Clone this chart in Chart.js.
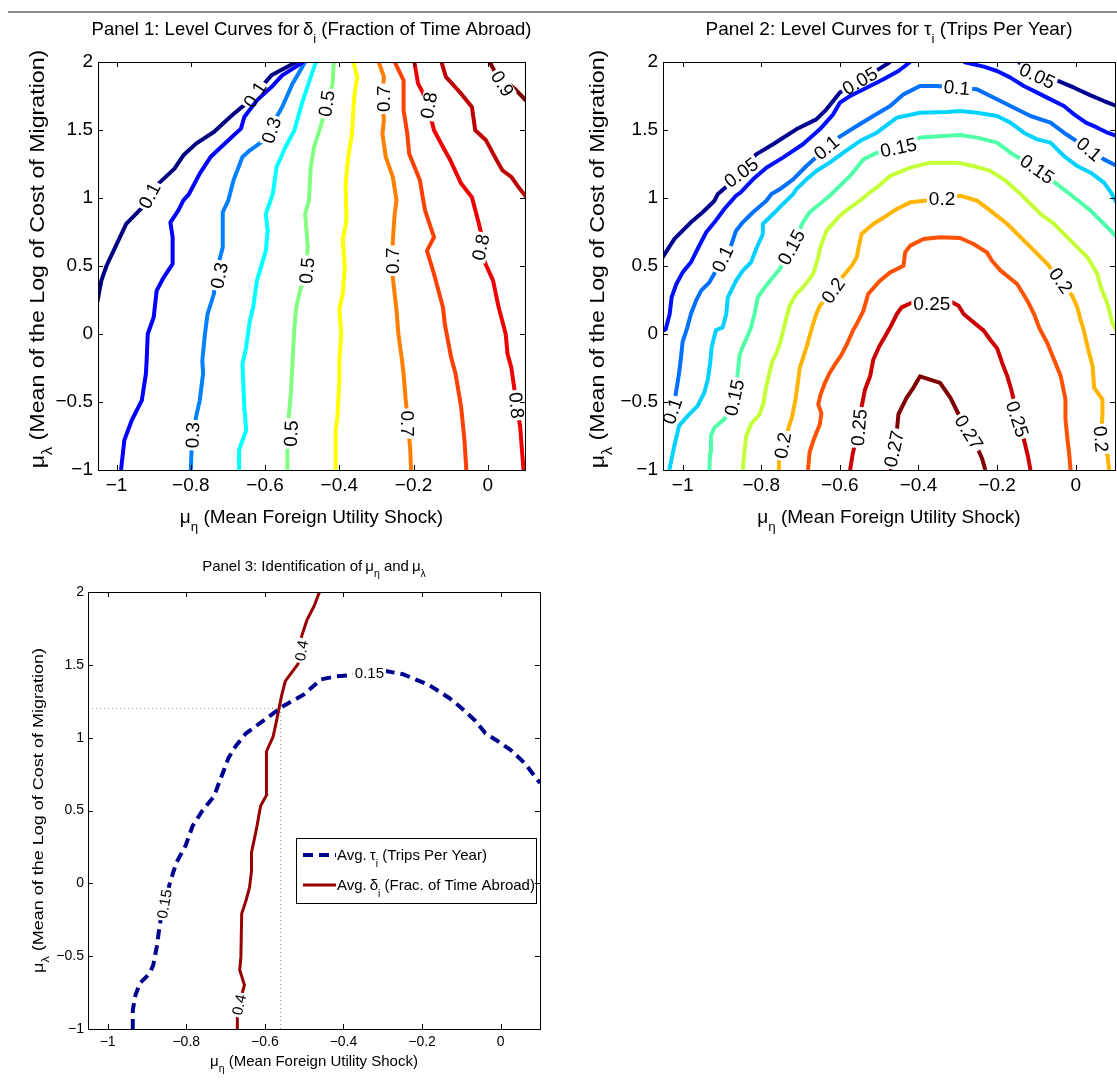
<!DOCTYPE html>
<html lang="en">
<head>
<meta charset="UTF-8">
<title>Level curves and identification</title>
<script src="https://cdn.jsdelivr.net/npm/chart.js"></script>
<style>
    body { margin: 0; background: #ffffff; }
    #page { position: relative; width: 1117px; height: 1088px; overflow: hidden; }
    .rule { position: absolute; left: 8px; top: 11px; width: 1109px; height: 2px; background: #8c8c8c; }
    canvas { position: absolute; }
</style>
</head>
<body>
<div id="page">
    <div class="rule"></div>
    <canvas id="panel1" width="560" height="540" style="left:0;top:0"></canvas>
    <canvas id="panel2" width="560" height="540" style="left:557px;top:0"></canvas>
    <canvas id="panel3" width="560" height="548" style="left:0;top:540px"></canvas>
</div>
<script>
// axes
const xRange = [-1.05, 0.1];
const yRange = [-1, 2];
const xTicks = [-1, -0.8, -0.6, -0.4, -0.2, 0];
const yTicks = [-1, -0.5, 0, 0.5, 1, 1.5, 2];

// Panel 1: level curves of delta (fraction of time abroad)
const d_010 = [[-0.516,2.0],[-0.583,1.902],[-0.641,1.718],[-0.689,1.608],[-0.738,1.485],[-0.786,1.400],[-0.820,1.314],[-0.844,1.216],[-0.892,1.093],[-0.926,0.944],[-0.974,0.809],[-1.008,0.613],[-1.027,0.502],[-1.041,0.392],[-1.052,0.233]];
const d_020 = [[-0.497,2.0],[-0.554,1.902],[-0.583,1.816],[-0.622,1.718],[-0.656,1.596],[-0.665,1.510],[-0.699,1.424],[-0.747,1.301],[-0.776,1.179],[-0.805,1.029],[-0.820,0.983],[-0.834,0.907],[-0.855,0.821],[-0.849,0.711],[-0.849,0.515],[-0.873,0.417],[-0.892,0.319],[-0.900,0.123],[-0.916,0.0],[-0.919,-0.196],[-0.921,-0.293],[-0.932,-0.488],[-0.959,-0.634],[-0.979,-0.780],[-0.988,-1.0]];
const d_030 = [[-0.492,2.0],[-0.526,1.841],[-0.554,1.669],[-0.574,1.571],[-0.583,1.498],[-0.603,1.424],[-0.641,1.351],[-0.661,1.302],[-0.685,1.130],[-0.699,0.983],[-0.714,0.895],[-0.714,0.637],[-0.728,0.490],[-0.738,0.294],[-0.755,0.147],[-0.762,0.0],[-0.769,-0.196],[-0.767,-0.293],[-0.776,-0.488],[-0.786,-0.610],[-0.798,-0.854],[-0.800,-1.0]];
const d_040 = [[-0.463,2.0],[-0.477,1.890],[-0.501,1.694],[-0.521,1.498],[-0.545,1.375],[-0.569,1.228],[-0.579,1.033],[-0.598,0.882],[-0.593,0.760],[-0.598,0.613],[-0.622,0.392],[-0.632,0.196],[-0.641,0.098],[-0.651,-0.098],[-0.661,-0.220],[-0.656,-0.537],[-0.651,-0.707],[-0.670,-0.854],[-0.670,-1.0]];
const d_050 = [[-0.415,2.0],[-0.418,1.841],[-0.431,1.718],[-0.448,1.547],[-0.468,1.375],[-0.477,1.228],[-0.482,0.983],[-0.492,0.882],[-0.485,0.637],[-0.492,0.441],[-0.506,0.319],[-0.516,0.196],[-0.521,0.049],[-0.526,-0.196],[-0.530,-0.415],[-0.537,-0.634],[-0.540,-0.780],[-0.540,-1.0]];
const d_060 = [[-0.362,2.0],[-0.352,1.890],[-0.360,1.743],[-0.366,1.473],[-0.376,1.302],[-0.383,1.106],[-0.381,0.833],[-0.391,0.686],[-0.385,0.490],[-0.391,0.294],[-0.400,0.184],[-0.395,0.0],[-0.400,-0.196],[-0.400,-0.341],[-0.405,-0.610],[-0.410,-0.707],[-0.410,-1.0]];
const d_070 = [[-0.294,2.0],[-0.280,1.890],[-0.284,1.743],[-0.280,1.571],[-0.284,1.473],[-0.275,1.302],[-0.256,1.155],[-0.246,0.983],[-0.251,0.882],[-0.256,0.686],[-0.256,0.417],[-0.246,0.172],[-0.241,0.0],[-0.231,-0.196],[-0.227,-0.293],[-0.222,-0.463],[-0.215,-0.659],[-0.209,-0.854],[-0.207,-1.0]];
const d_075 = [[-0.251,2.0],[-0.227,1.865],[-0.227,1.645],[-0.217,1.473],[-0.212,1.326],[-0.183,1.130],[-0.174,0.983],[-0.169,0.907],[-0.145,0.711],[-0.164,0.613],[-0.145,0.441],[-0.121,0.196],[-0.116,0.074],[-0.099,-0.172],[-0.087,-0.293],[-0.072,-0.537],[-0.063,-0.780],[-0.058,-1.0]];
const d_080 = [[-0.198,2.0],[-0.188,1.841],[-0.164,1.718],[-0.154,1.596],[-0.145,1.498],[-0.121,1.375],[-0.101,1.277],[-0.072,1.106],[-0.043,1.005],[-0.024,0.809],[-0.014,0.686],[-0.010,0.539],[0.014,0.392],[0.029,0.196],[0.048,0.0],[0.053,-0.147],[0.063,-0.244],[0.077,-0.512],[0.087,-0.683],[0.096,-1.0]];
const d_085 = [[-0.125,2.0],[-0.113,1.890],[-0.072,1.767],[-0.043,1.669],[-0.034,1.498],[-0.005,1.424],[0.024,1.277],[0.039,1.204],[0.063,1.155],[0.082,1.082],[0.105,1.0]];
const d_090 = [[0.005,2.0],[0.019,1.927],[0.072,1.804],[0.105,1.71]];
const deltaLines = [d_010, d_020, d_030, d_040, d_050, d_060, d_070, d_075, d_080, d_085, d_090];
const deltaColors = ['#000080','#0000FF','#0080FF','#00FFFF','#80FF80','#FFFF00','#FF8000','#FF4000','#F00000','#BF0000','#800000'];
const deltaLabels = [
    { line: 0, text: '0.1', x: -0.627, y: 1.760, angle: -58 },
    { line: 0, text: '0.1', x: -0.911, y: 1.017, angle: -62 },
    { line: 2, text: '0.3', x: -0.583, y: 1.498, angle: -72 },
    { line: 2, text: '0.3', x: -0.723, y: 0.429, angle: -78 },
    { line: 2, text: '0.3', x: -0.795, y: -0.744, angle: -88 },
    { line: 4, text: '0.5', x: -0.434, y: 1.694, angle: -82 },
    { line: 4, text: '0.5', x: -0.487, y: 0.466, angle: -85 },
    { line: 4, text: '0.5', x: -0.530, y: -0.732, angle: -88 },
    { line: 6, text: '0.7', x: -0.280, y: 1.730, angle: -90 },
    { line: 6, text: '0.7', x: -0.256, y: 0.539, angle: -90 },
    { line: 6, text: '0.7', x: -0.217, y: -0.659, angle: 90 },
    { line: 8, text: '0.8', x: -0.159, y: 1.681, angle: -80 },
    { line: 8, text: '0.8', x: -0.019, y: 0.637, angle: -78 },
    { line: 8, text: '0.8', x: 0.077, y: -0.524, angle: 85 },
    { line: 10, text: '0.9', x: 0.039, y: 1.841, angle: 58 }
];

// Panel 2: level curves of tau (trips per year)
const t_005a = [[-1.052,0.56],[-1.021,0.699],[-1.0,0.760],[-0.979,0.821],[-0.949,0.895],[-0.919,0.980],[-0.911,1.027],[-0.872,1.125],[-0.851,1.186],[-0.813,1.321],[-0.770,1.395],[-0.711,1.505],[-0.660,1.578],[-0.634,1.652],[-0.600,1.775],[-0.549,1.860],[-0.502,1.946],[-0.472,2.0]];
const t_005b = [[-0.145,2.0],[-0.098,1.897],[-0.051,1.868],[-0.004,1.811],[0.038,1.755],[0.072,1.713],[0.105,1.676]];
const t_0075a = [[-1.052,0.02],[-1.043,0.037],[-1.033,0.147],[-1.028,0.270],[-1.016,0.368],[-1.0,0.453],[-0.979,0.527],[-0.962,0.625],[-0.940,0.748],[-0.919,0.821],[-0.894,0.919],[-0.864,1.017],[-0.853,1.039],[-0.821,1.137],[-0.787,1.223],[-0.745,1.297],[-0.694,1.395],[-0.651,1.505],[-0.617,1.615],[-0.600,1.701],[-0.574,1.750],[-0.532,1.811],[-0.489,1.873],[-0.451,1.934],[-0.421,2.0]];
const t_0075b = [[-0.285,2.0],[-0.234,1.966],[-0.200,1.934],[-0.166,1.885],[-0.132,1.824],[-0.098,1.775],[-0.064,1.725],[-0.030,1.676],[-0.004,1.615],[0.026,1.554],[0.055,1.517],[0.081,1.480],[0.105,1.456]];
const t_010 = [[-1.052,-0.63],[-1.038,-0.614],[-1.026,-0.566],[-1.017,-0.432],[-1.009,-0.286],[-1.004,-0.165],[-1.0,-0.056],[-0.990,0.030],[-0.979,0.147],[-0.966,0.245],[-0.953,0.319],[-0.932,0.380],[-0.898,0.551],[-0.877,0.650],[-0.864,0.760],[-0.847,0.821],[-0.821,0.895],[-0.787,0.980],[-0.774,1.029],[-0.753,1.064],[-0.719,1.137],[-0.685,1.235],[-0.634,1.370],[-0.604,1.444],[-0.557,1.529],[-0.515,1.603],[-0.472,1.676],[-0.438,1.762],[-0.396,1.824],[-0.353,1.824],[-0.302,1.811],[-0.251,1.799],[-0.217,1.750],[-0.166,1.676],[-0.115,1.603],[-0.064,1.554],[-0.030,1.480],[0.034,1.358],[0.072,1.284],[0.105,1.235]];
const t_0125 = [[-1.034,-1.0],[-1.021,-0.820],[-1.009,-0.675],[-0.987,-0.602],[-0.962,-0.529],[-0.945,-0.432],[-0.936,-0.335],[-0.930,-0.214],[-0.926,-0.092],[-0.915,0.029],[-0.898,0.049],[-0.889,0.147],[-0.885,0.270],[-0.864,0.392],[-0.847,0.466],[-0.826,0.527],[-0.813,0.625],[-0.796,0.735],[-0.796,0.809],[-0.770,0.882],[-0.749,0.944],[-0.719,1.029],[-0.711,1.064],[-0.685,1.137],[-0.660,1.199],[-0.626,1.260],[-0.591,1.333],[-0.549,1.419],[-0.506,1.480],[-0.455,1.591],[-0.396,1.627],[-0.328,1.632],[-0.294,1.640],[-0.251,1.627],[-0.200,1.603],[-0.166,1.554],[-0.132,1.480],[-0.098,1.431],[-0.064,1.407],[-0.030,1.309],[0.004,1.235],[0.038,1.186],[0.072,1.113],[0.090,1.040],[0.105,0.960]];
const t_015 = [[-0.932,-1.0],[-0.930,-0.869],[-0.928,-0.748],[-0.919,-0.687],[-0.894,-0.626],[-0.868,-0.468],[-0.860,-0.286],[-0.855,-0.153],[-0.845,-0.080],[-0.832,0.005],[-0.826,0.049],[-0.817,0.147],[-0.809,0.270],[-0.791,0.343],[-0.774,0.404],[-0.753,0.478],[-0.723,0.637],[-0.694,0.821],[-0.677,0.895],[-0.651,0.956],[-0.626,1.017],[-0.609,1.064],[-0.574,1.162],[-0.540,1.284],[-0.506,1.333],[-0.451,1.370],[-0.396,1.444],[-0.336,1.456],[-0.294,1.463],[-0.251,1.444],[-0.200,1.407],[-0.166,1.333],[-0.098,1.211],[-0.047,1.100],[-0.017,1.034],[0.017,0.956],[0.038,0.907],[0.055,0.858],[0.072,0.809],[0.089,0.760],[0.105,0.711]];
const t_0175 = [[-0.847,-1.0],[-0.843,-0.869],[-0.838,-0.748],[-0.826,-0.663],[-0.804,-0.590],[-0.794,-0.505],[-0.789,-0.408],[-0.779,-0.286],[-0.772,-0.201],[-0.760,-0.129],[-0.751,-0.056],[-0.743,0.040],[-0.728,0.208],[-0.711,0.294],[-0.694,0.343],[-0.668,0.441],[-0.655,0.564],[-0.651,0.625],[-0.634,0.760],[-0.604,0.858],[-0.579,0.919],[-0.549,0.980],[-0.523,1.042],[-0.502,1.088],[-0.472,1.162],[-0.421,1.223],[-0.370,1.260],[-0.302,1.260],[-0.260,1.235],[-0.217,1.199],[-0.183,1.137],[-0.149,1.051],[-0.140,1.029],[-0.115,0.956],[-0.089,0.882],[-0.055,0.809],[-0.021,0.711],[0.004,0.637],[0.030,0.564],[0.055,0.441],[0.064,0.343],[0.081,0.221],[0.094,0.074],[0.105,0.02]];
const t_020 = [[-0.755,-1.0],[-0.755,-0.942],[-0.745,-0.820],[-0.730,-0.687],[-0.721,-0.602],[-0.713,-0.481],[-0.707,-0.359],[-0.702,-0.250],[-0.694,-0.177],[-0.683,-0.080],[-0.675,0.005],[-0.668,0.074],[-0.660,0.147],[-0.651,0.208],[-0.617,0.319],[-0.591,0.429],[-0.570,0.502],[-0.557,0.564],[-0.553,0.625],[-0.545,0.735],[-0.515,0.809],[-0.481,0.870],[-0.455,0.919],[-0.421,0.968],[-0.340,0.993],[-0.294,1.017],[-0.251,0.980],[-0.217,0.907],[-0.174,0.809],[-0.140,0.711],[-0.106,0.613],[-0.072,0.515],[-0.038,0.392],[-0.009,0.282],[0.004,0.196],[0.013,0.098],[0.021,0.025],[0.030,-0.092],[0.043,-0.238],[0.047,-0.396],[0.068,-0.481],[0.068,-0.602],[0.064,-0.772],[0.081,-0.893],[0.085,-1.0]];
const t_0225 = [[-0.681,-1.0],[-0.677,-0.869],[-0.666,-0.772],[-0.651,-0.663],[-0.647,-0.583],[-0.655,-0.517],[-0.649,-0.444],[-0.638,-0.359],[-0.626,-0.286],[-0.613,-0.226],[-0.596,-0.153],[-0.581,-0.068],[-0.566,0.029],[-0.557,0.074],[-0.540,0.172],[-0.528,0.294],[-0.498,0.392],[-0.472,0.453],[-0.438,0.502],[-0.434,0.600],[-0.421,0.650],[-0.387,0.699],[-0.345,0.711],[-0.294,0.706],[-0.260,0.662],[-0.226,0.600],[-0.213,0.539],[-0.191,0.466],[-0.149,0.368],[-0.123,0.245],[-0.106,0.147],[-0.092,0.040],[-0.072,-0.068],[-0.055,-0.189],[-0.038,-0.311],[-0.026,-0.481],[-0.026,-0.626],[-0.021,-0.772],[-0.017,-0.869],[-0.013,-1.0]];
const t_025 = [[-0.574,-1.0],[-0.568,-0.893],[-0.561,-0.796],[-0.551,-0.687],[-0.545,-0.541],[-0.536,-0.408],[-0.523,-0.311],[-0.515,-0.189],[-0.500,-0.092],[-0.483,-0.007],[-0.472,0.049],[-0.455,0.147],[-0.443,0.196],[-0.413,0.235],[-0.366,0.245],[-0.319,0.240],[-0.298,0.208],[-0.285,0.147],[-0.260,0.086],[-0.234,0.025],[-0.217,-0.044],[-0.200,-0.104],[-0.187,-0.214],[-0.174,-0.311],[-0.164,-0.408],[-0.157,-0.493],[-0.149,-0.626],[-0.132,-0.772],[-0.122,-0.893],[-0.115,-1.0]];
const t_027 = [[-0.472,-1.0],[-0.470,-0.966],[-0.462,-0.845],[-0.455,-0.711],[-0.451,-0.590],[-0.430,-0.468],[-0.413,-0.396],[-0.396,-0.311],[-0.345,-0.359],[-0.319,-0.468],[-0.298,-0.590],[-0.272,-0.723],[-0.251,-0.833],[-0.238,-0.917],[-0.230,-1.0]];
const tauLines = [t_005a, t_005b, t_0075a, t_0075b, t_010, t_0125, t_015, t_0175, t_020, t_0225, t_025, t_027];
const tauColors = ['#000090','#000090','#0010FF','#0010FF','#0070FF','#00D2FF','#50FFA8','#C4FF38','#FFB400','#FF5200','#CC0000','#800000'];
const tauLabels = [
    { line: 0, text: '0.05', x: -0.851, y: 1.186, angle: -36 },
    { line: 0, text: '0.05', x: -0.549, y: 1.860, angle: -30 },
    { line: 1, text: '0.05', x: -0.098, y: 1.897, angle: 25 },
    { line: 4, text: '0.1', x: -1.026, y: -0.566, angle: -72 },
    { line: 4, text: '0.1', x: -0.898, y: 0.551, angle: -65 },
    { line: 4, text: '0.1', x: -0.634, y: 1.370, angle: -40 },
    { line: 4, text: '0.1', x: -0.302, y: 1.811, angle: 5 },
    { line: 4, text: '0.1', x: 0.034, y: 1.358, angle: 40 },
    { line: 6, text: '0.15', x: -0.868, y: -0.468, angle: -78 },
    { line: 6, text: '0.15', x: -0.723, y: 0.637, angle: -62 },
    { line: 6, text: '0.15', x: -0.451, y: 1.370, angle: -12 },
    { line: 6, text: '0.15', x: -0.098, y: 1.211, angle: 35 },
    { line: 8, text: '0.2', x: -0.745, y: -0.820, angle: -80 },
    { line: 8, text: '0.2', x: -0.617, y: 0.319, angle: -55 },
    { line: 8, text: '0.2', x: -0.340, y: 0.993, angle: 0 },
    { line: 8, text: '0.2', x: -0.038, y: 0.392, angle: 55 },
    { line: 8, text: '0.2', x: 0.064, y: -0.772, angle: 85 },
    { line: 10, text: '0.25', x: -0.551, y: -0.687, angle: -85 },
    { line: 10, text: '0.25', x: -0.366, y: 0.225, angle: 0 },
    { line: 10, text: '0.25', x: -0.149, y: -0.626, angle: 72 },
    { line: 11, text: '0.27', x: -0.462, y: -0.845, angle: -78 },
    { line: 11, text: '0.27', x: -0.272, y: -0.723, angle: 58 }
];

// Panel 3: the two matched level curves
const avgTau = [[-0.936,-1.0],[-0.936,-0.868],[-0.929,-0.766],[-0.918,-0.686],[-0.893,-0.618],[-0.884,-0.561],[-0.875,-0.436],[-0.867,-0.277],[-0.856,-0.141],[-0.840,0.018],[-0.825,0.143],[-0.802,0.257],[-0.784,0.393],[-0.757,0.507],[-0.729,0.598],[-0.720,0.666],[-0.707,0.757],[-0.693,0.859],[-0.675,0.939],[-0.648,1.030],[-0.602,1.120],[-0.557,1.211],[-0.502,1.294],[-0.457,1.400],[-0.420,1.420],[-0.334,1.442],[-0.293,1.458],[-0.248,1.435],[-0.184,1.364],[-0.130,1.271],[-0.103,1.211],[-0.066,1.120],[-0.039,1.030],[-0.012,0.984],[0.025,0.916],[0.061,0.825],[0.100,0.689]];
const avgDelta = [[-0.670,-1.0],[-0.670,-0.914],[-0.666,-0.834],[-0.652,-0.698],[-0.664,-0.595],[-0.661,-0.505],[-0.659,-0.209],[-0.648,-0.118],[-0.639,-0.027],[-0.634,0.086],[-0.634,0.211],[-0.620,0.393],[-0.611,0.530],[-0.602,0.575],[-0.595,0.609],[-0.597,0.802],[-0.595,0.905],[-0.579,1.007],[-0.570,1.120],[-0.557,1.294],[-0.548,1.388],[-0.516,1.505],[-0.507,1.598],[-0.507,1.692],[-0.493,1.808],[-0.475,1.902],[-0.461,2.0]];
const crossX = -0.56;
const crossY = 1.2;
const idLabels = [
    { line: 0, text: '0.15', x: -0.856, y: -0.141, angle: -80 },
    { line: 0, text: '0.15', x: -0.334, y: 1.442, angle: 0 },
    { line: 1, text: '0.4', x: -0.666, y: -0.834, angle: -78 },
    { line: 1, text: '0.4', x: -0.507, y: 1.598, angle: -80 }
];

const FONT = '"Liberation Sans", Arial, Helvetica, sans-serif';

function fmtTick(v) {
    const s = String(Math.abs(Math.round(v * 100) / 100));
    return v < 0 ? '\u2212' + s : s;
}

function setFont(ctx, size) { ctx.font = size + 'px ' + FONT; }

function richWidth(ctx, parts, size) {
    let w = 0;
    parts.forEach(p => { setFont(ctx, p.sub ? size * 0.7 : size); w += ctx.measureText(p.t).width; });
    return w;
}

// text with TeX-like subscripts
function drawRich(ctx, parts, x, y, size, align) {
    let cx = align === 'left' ? x : x - richWidth(ctx, parts, size) / 2;
    ctx.textAlign = 'left';
    ctx.textBaseline = 'alphabetic';
    parts.forEach(p => {
        setFont(ctx, p.sub ? size * 0.7 : size);
        ctx.fillText(p.t, cx, p.sub ? y + size * 0.42 : y);
        cx += ctx.measureText(p.t).width;
    });
}

function labelBox(chart, lab, size) {
    setFont(chart.ctx, size);
    return {
        px: chart.scales.x.getPixelForValue(lab.x),
        py: chart.scales.y.getPixelForValue(lab.y),
        w: chart.ctx.measureText(lab.text).width + 4,
        h: size * 0.8,
        a: lab.angle * Math.PI / 180
    };
}

function rectPath(ctx, b) {
    const c = Math.cos(b.a), s = Math.sin(b.a);
    [[-b.w / 2, -b.h / 2], [b.w / 2, -b.h / 2], [b.w / 2, b.h / 2], [-b.w / 2, b.h / 2]].forEach(([u, v], i) => {
        const X = b.px + u * c - v * s, Y = b.py + u * s + v * c;
        if (i) ctx.lineTo(X, Y); else ctx.moveTo(X, Y);
    });
    ctx.closePath();
}

const panelSetup = {};

const panelPlugin = {
    id: 'panel',
    beforeDatasetDraw(chart, args) {
        const cfg = panelSetup[chart.canvas.id];
        const labs = cfg.labels.filter(l => l.line === args.index);
        if (!labs.length) return;
        const ctx = chart.ctx;
        ctx.save();
        ctx.beginPath();
        ctx.rect(0, 0, chart.width, chart.height);
        labs.forEach(l => rectPath(ctx, labelBox(chart, l, cfg.labelSize)));
        ctx.clip('evenodd');
        cfg.clipped = true;
    },
    afterDatasetDraw(chart) {
        const cfg = panelSetup[chart.canvas.id];
        if (cfg.clipped) { chart.ctx.restore(); cfg.clipped = false; }
    },
    afterDraw(chart) {
        const cfg = panelSetup[chart.canvas.id];
        const ctx = chart.ctx;
        const a = chart.chartArea;
        const xs = chart.scales.x, ys = chart.scales.y;
        ctx.save();
        ctx.fillStyle = '#000';
        ctx.strokeStyle = '#000';

        // contour labels
        cfg.labels.forEach(l => {
            const b = labelBox(chart, l, cfg.labelSize);
            ctx.save();
            ctx.translate(b.px, b.py);
            ctx.rotate(b.a);
            setFont(ctx, cfg.labelSize);
            ctx.textAlign = 'center';
            ctx.textBaseline = 'middle';
            ctx.fillText(l.text, 0, 1);
            ctx.restore();
        });

        // legend
        if (cfg.legend) {
            const L = cfg.legend;
            ctx.fillStyle = '#fff';
            ctx.fillRect(L.left, L.top, L.width, L.height);
            ctx.lineWidth = 1;
            ctx.strokeRect(L.left + 0.5, L.top + 0.5, L.width, L.height);
            L.rows.forEach(r => {
                const ds = chart.data.datasets[r.dataset];
                ctx.save();
                ctx.strokeStyle = ds.borderColor;
                ctx.lineWidth = ds.borderWidth;
                ctx.setLineDash(ds.borderDash || []);
                ctx.beginPath();
                ctx.moveTo(L.left + 7, r.y);
                ctx.lineTo(L.left + 40, r.y);
                ctx.stroke();
                ctx.restore();
                ctx.fillStyle = '#000';
                drawRich(ctx, r.parts, L.left + 41, r.y + cfg.fontSize * 0.36, cfg.fontSize, 'left');
            });
        }

        // axes box and inward ticks
        ctx.lineWidth = 1;
        ctx.strokeRect(Math.round(a.left) + 0.5, Math.round(a.top) + 0.5, Math.round(a.right - a.left), Math.round(a.bottom - a.top));
        ctx.beginPath();
        xTicks.forEach(v => {
            const p = Math.round(xs.getPixelForValue(v)) + 0.5;
            ctx.moveTo(p, a.bottom); ctx.lineTo(p, a.bottom - cfg.tickLen);
            ctx.moveTo(p, a.top); ctx.lineTo(p, a.top + cfg.tickLen);
        });
        yTicks.forEach(v => {
            const p = Math.round(ys.getPixelForValue(v)) + 0.5;
            ctx.moveTo(a.left, p); ctx.lineTo(a.left + cfg.tickLen, p);
            ctx.moveTo(a.right, p); ctx.lineTo(a.right - cfg.tickLen, p);
        });
        ctx.stroke();

        // tick labels
        setFont(ctx, cfg.tickSize);
        ctx.fillStyle = '#000';
        ctx.textAlign = 'center';
        ctx.textBaseline = 'top';
        xTicks.forEach(v => ctx.fillText(fmtTick(v), xs.getPixelForValue(v), a.bottom + cfg.xTickPad));
        ctx.textAlign = 'right';
        ctx.textBaseline = 'middle';
        yTicks.forEach(v => ctx.fillText(fmtTick(v), a.left - cfg.yTickPad, ys.getPixelForValue(v)));

        // title and axis labels
        const cx = (a.left + a.right) / 2, cy = (a.top + a.bottom) / 2;
        drawRich(ctx, cfg.title, cx, cfg.titleY, cfg.titleSize, 'center');
        drawRich(ctx, cfg.xlabel, cx, cfg.xlabelY, cfg.fontSize, 'center');
        ctx.save();
        ctx.translate(cfg.ylabelX, cy + cfg.ylabelShift);
        ctx.rotate(-Math.PI / 2);
        ctx.scale(cfg.ylabelStretch, 1);
        drawRich(ctx, cfg.ylabel, 0, 0, cfg.ylabelSize, 'center');
        ctx.restore();
        ctx.restore();
    }
};

function lineDataset(points, color, width, extra) {
    return Object.assign({
        data: points.map(p => ({ x: p[0], y: p[1] })),
        borderColor: color,
        backgroundColor: color,
        borderWidth: width,
        showLine: true,
        pointRadius: 0,
        tension: 0,
        fill: false,
        clip: 0,
        borderJoinStyle: 'round',
        borderCapStyle: 'butt'
    }, extra || {});
}

function makePanel(id, datasets, padding, cfg) {
    panelSetup[id] = cfg;
    return new Chart(document.getElementById(id), {
        type: 'scatter',
        data: { datasets: datasets },
        options: {
            responsive: false,
            animation: false,
            events: [],
            layout: { padding: padding },
            plugins: { legend: { display: false }, tooltip: { enabled: false } },
            scales: {
                x: { type: 'linear', min: xRange[0], max: xRange[1], display: false },
                y: { type: 'linear', min: yRange[0], max: yRange[1], display: false }
            }
        },
        plugins: [panelPlugin]
    });
}

const yLabelParts = [{ t: '\u03bc' }, { t: '\u03bb', sub: true }, { t: ' (Mean of the Log of Cost of Migration)' }];
const xLabelParts = [{ t: '\u03bc' }, { t: '\u03b7', sub: true }, { t: ' (Mean Foreign Utility Shock)' }];

makePanel('panel1',
    deltaLines.map((pts, i) => lineDataset(pts, deltaColors[i], 4)),
    { left: 98, top: 62, right: 35, bottom: 70 },
    {
        labels: deltaLabels, labelSize: 19, fontSize: 19, titleSize: 18.5, tickSize: 19, tickLen: 5,
        xTickPad: 6, yTickPad: 5,
        title: [{ t: 'Panel 1: Level Curves for\u2009\u03b4' }, { t: 'i', sub: true }, { t: ' (Fraction of Time Abroad)' }],
        titleY: 35, xlabel: xLabelParts, xlabelY: 523,
        ylabel: yLabelParts, ylabelX: 44, ylabelSize: 20, ylabelStretch: 1.16, ylabelShift: -7
    });

makePanel('panel2',
    tauLines.map((pts, i) => lineDataset(pts, tauColors[i], 4)),
    { left: 106, top: 62, right: 2, bottom: 70 },
    {
        labels: tauLabels, labelSize: 19, fontSize: 19, titleSize: 19, tickSize: 19, tickLen: 5,
        xTickPad: 6, yTickPad: 5,
        title: [{ t: 'Panel 2: Level Curves for \u03c4' }, { t: 'i', sub: true }, { t: ' (Trips Per Year)' }],
        titleY: 35, xlabel: xLabelParts, xlabelY: 523,
        ylabel: yLabelParts, ylabelX: 47, ylabelSize: 20, ylabelStretch: 1.16, ylabelShift: -7
    });

makePanel('panel3',
    [
        lineDataset(avgTau, '#00008F', 4, { borderDash: [10, 6] }),
        lineDataset(avgDelta, '#960000', 3),
        lineDataset([[xRange[0], crossY], [crossX, crossY]], '#8c8c8c', 1, { borderDash: [1, 3] }),
        lineDataset([[crossX, yRange[0]], [crossX, crossY]], '#8c8c8c', 1, { borderDash: [1, 3] })
    ],
    { left: 88, top: 52, right: 20, bottom: 59 },
    {
        labels: idLabels, labelSize: 15, fontSize: 15, titleSize: 15, tickSize: 14, tickLen: 5,
        xTickPad: 6, yTickPad: 4,
        title: [{ t: 'Panel 3: Identification of\u2009\u03bc' }, { t: '\u03b7', sub: true }, { t: ' and\u2009\u03bc' }, { t: '\u03bb', sub: true }],
        titleY: 31, xlabel: xLabelParts, xlabelY: 526,
        ylabel: yLabelParts, ylabelX: 43, ylabelSize: 15, ylabelStretch: 1.2, ylabelShift: 0,
        legend: {
            left: 296, top: 298, width: 240, height: 65,
            rows: [
                { dataset: 0, y: 315, parts: [{ t: 'Avg.\u2009\u03c4' }, { t: 'i', sub: true }, { t: ' (Trips Per Year)' }] },
                { dataset: 1, y: 345, parts: [{ t: 'Avg.\u2009\u03b4' }, { t: 'i', sub: true }, { t: ' (Frac. of Time Abroad)' }] }
            ]
        }
    });
</script>
</body>
</html>
